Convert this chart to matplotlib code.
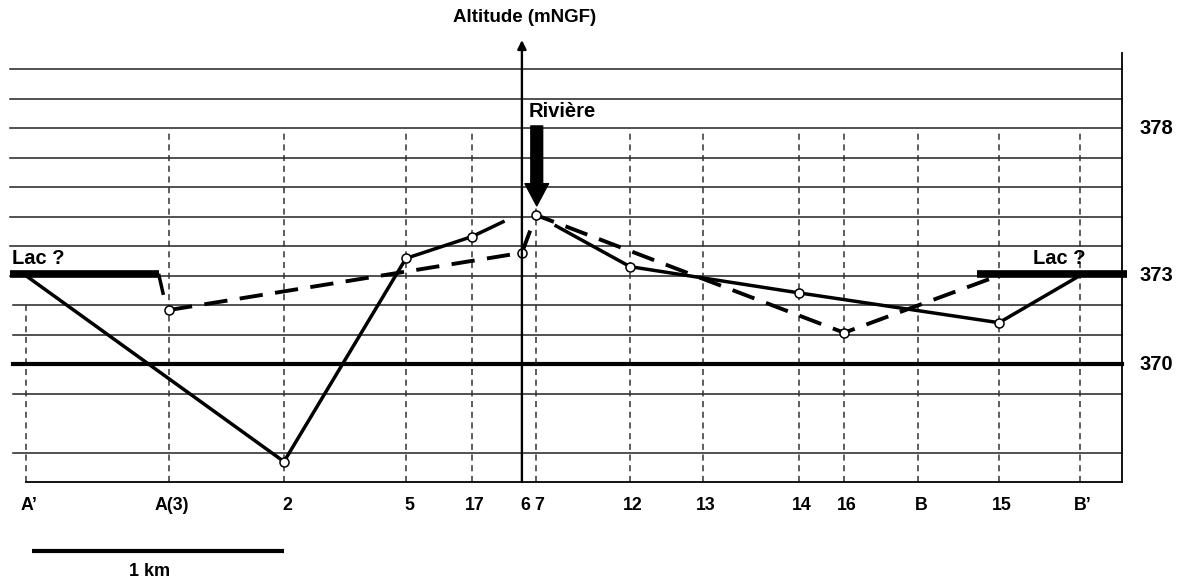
import matplotlib
matplotlib.use("Agg")
import matplotlib.pyplot as plt
from matplotlib.patches import FancyArrowPatch, ArrowStyle

plt.rcParams['font.family'] = ['Liberation Sans', 'DejaVu Sans']
plt.rcParams['font.weight'] = 'bold'

# ---- data ----
stations = ["A\u2019", "A(3)", "2", "5", "17", "6", "7", "12", "13", "14", "16", "B", "15", "B\u2019"]
station_km = [0.0, 0.570, 1.027, 1.512, 1.775, 1.973, 2.029, 2.403, 2.693, 3.075, 3.254, 3.548, 3.870, 4.192]

# solid profile (west part) and (east part)
solid_w_km = [0.0, 1.027, 1.512, 1.775, 1.898]
solid_w_alt = [373.0, 366.69, 373.58, 374.32, 374.82]
solid_w_mark = [False, True, True, True, False]

solid_e_km = [2.109, 2.403, 3.075, 3.870, 4.192]
solid_e_alt = [374.68, 373.30, 372.41, 371.40, 373.0]
solid_e_mark = [False, True, True, True, False]

# dashed profile
dash_km = [0.570, 1.973, 2.029, 3.254, 3.870]
dash_alt = [371.83, 373.77, 375.05, 371.06, 373.0]
dash_mark = [True, True, True, True, False]

# small stub at end of left lake
stub_km = [0.530, 0.546]
stub_alt = [373.0, 372.4]

lake_alt = 373.05
lake_left_km = [-0.063, 0.530]
lake_right_km = [3.783, 4.379]

grid_levels = [380, 379, 378, 377, 376, 375, 374, 373, 372, 371, 369, 367]
thick_level = 370
base_level = 366
right_labels = [378, 373, 370]

# ---- figure ----
W, H = 1188, 584
fig = plt.figure(figsize=(W / 100, H / 100), dpi=100)
ax = fig.add_axes([0, 0, 1, 1])
ax.set_xlim(-25.7 / 251.5, (W - 25.7) / 251.5)
ax.set_ylim(370 - (H - 364) / 29.5, 370 + 364 / 29.5)
ax.axis('off')

x_right = 4.358
top_alt = 380.55

# horizontal grid
for lv in grid_levels:
    x0 = -0.063 if lv >= 373 else -0.05
    ax.plot([x0, x_right], [lv, lv], color='#222222', lw=1.1, zorder=1)
ax.plot([-0.05, x_right], [thick_level, thick_level], color='black', lw=3.0, zorder=2)
ax.plot([0.0, x_right], [base_level, base_level], color='black', lw=1.3, zorder=2)
ax.plot([x_right, x_right], [base_level, top_alt], color='black', lw=1.3, zorder=2)

# station vertical dashed lines
for name, xk in zip(stations, station_km):
    top = 372.0 if name == "A\u2019" else 377.9
    ax.plot([xk, xk], [base_level, top], color='#333333', lw=1.1,
            linestyle=(0, (4, 3)), zorder=1)
    ax.text(xk + 0.012, 365.22, name, ha='center', va='center', fontsize=12.8,
            fontweight='bold')

# lake bars
ax.plot(lake_left_km, [lake_alt, lake_alt], color='black', lw=5.5, solid_capstyle='butt', zorder=3)
ax.plot(lake_right_km, [lake_alt, lake_alt], color='black', lw=5.5, solid_capstyle='butt', zorder=3)
ax.plot(stub_km, stub_alt, color='black', lw=2.5, zorder=3)

# profiles
ax.plot(solid_w_km, solid_w_alt, color='black', lw=2.5, zorder=3)
ax.plot(solid_e_km, solid_e_alt, color='black', lw=2.5, zorder=3)
ax.plot(dash_km, dash_alt, color='black', lw=2.8, linestyle=(0, (6, 3.2)), zorder=3)

mk = dict(marker='o', ms=6.5, mfc='white', mec='black', mew=1.1, ls='none', zorder=4)
for xs, ys, ms in [(solid_w_km, solid_w_alt, solid_w_mark),
                   (solid_e_km, solid_e_alt, solid_e_mark),
                   (dash_km, dash_alt, dash_mark)]:
    ax.plot([x for x, m in zip(xs, ms) if m], [y for y, m in zip(ys, ms) if m], **mk)

# vertical altitude axis
x6 = station_km[stations.index("6")]
ax.annotate('', xy=(x6, 380.98), xytext=(x6, base_level),
            arrowprops=dict(arrowstyle='-|>', lw=1.7, color='black',
                            mutation_scale=13, shrinkA=0, shrinkB=0), zorder=5)
ax.text(x6 + 0.01, 381.73, "Altitude (mNGF)", ha='center', va='center', fontsize=13.5,
        fontweight='bold')

# river arrow
x7 = station_km[stations.index("7")]
arr = FancyArrowPatch((x7 + 0.003, 378.07), (x7 + 0.003, 375.36),
                      arrowstyle=ArrowStyle.Simple(head_length=16, head_width=17, tail_width=8.5),
                      mutation_scale=1, color='black', shrinkA=0, shrinkB=0, zorder=5)
ax.add_patch(arr)
ax.text(2.0, 378.55, "Rivi\u00e8re", ha='left', va='center', fontsize=14.5, fontweight='bold')

# lake labels
ax.text(-0.054, 373.56, "Lac ?", ha='left', va='center', fontsize=14.5, fontweight='bold')
ax.text(4.005, 373.56, "Lac ?", ha='left', va='center', fontsize=14.5, fontweight='bold')

# right altitude labels
for lv in right_labels:
    ax.text(4.43, lv, str(lv), ha='left', va='center', fontsize=14.5, fontweight='bold')

# scale bar
ax.plot([0.027, 1.027], [363.66, 363.66], color='black', lw=3.0, solid_capstyle='butt')
ax.text(0.494, 362.95, "1 km", ha='center', va='center', fontsize=13, fontweight='bold')

fig.savefig("out.png", dpi=100)
